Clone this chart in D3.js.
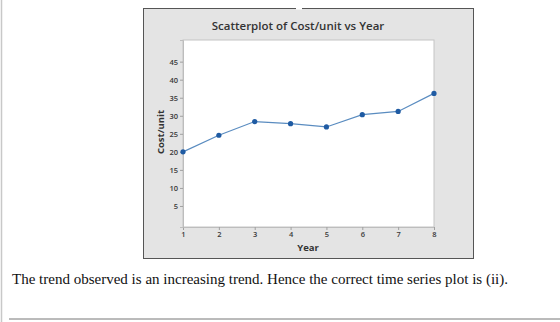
<!DOCTYPE html>
<html><head><meta charset="utf-8">
<script src="https://cdn.jsdelivr.net/npm/d3@7"></script>
<style>body{margin:0;background:#fff}svg{display:block}</style>
</head><body>
<svg id="c" width="560" height="322"></svg>
<script>
const years = [1, 2, 3, 4, 5, 6, 7, 8];
const costPerUnit = [20, 24.6, 28.4, 27.8, 26.9, 30.3, 31.2, 36.2];
const xTicks = [1, 2, 3, 4, 5, 6, 7, 8];
const yTicks = [5, 10, 15, 20, 25, 30, 35, 40, 45];
const titleText = "Scatterplot of Cost/unit vs Year";
const xLabel = "Year";
const yLabel = "Cost/unit";
const caption = "The trend observed is an increasing trend. Hence the correct time series plot is (ii).";

const svg = d3.select("#c");
svg.append("line").attr("x1",1.5).attr("x2",1.5).attr("y1",0).attr("y2",322).attr("stroke","#c8c8c8").attr("stroke-width",1.5);

svg.append("rect").attr("x",143.5).attr("y",8.5).attr("width",330).attr("height",250)
  .attr("fill","#e4e4e4").attr("stroke","#555").attr("stroke-width",1);
svg.append("rect").attr("x",296).attr("y",7).attr("width",6).attr("height",2.5).attr("fill","#fff");

const L=183, R=434, T=40, B=227;
svg.append("rect").attr("x",L).attr("y",T).attr("width",R-L).attr("height",B-T)
  .attr("fill","#fff").attr("stroke","#c4c4c4").attr("stroke-width",1);

const x = d3.scaleLinear().domain([1,8]).range([L,R]);
const y = d3.scaleLinear().domain([-0.83,51]).range([B,T]);

const gx = svg.append("g").attr("transform",`translate(0,${B})`)
  .call(d3.axisBottom(x).tickValues(xTicks).tickSize(3).tickPadding(2).tickFormat(d3.format("d")));
const gy = svg.append("g").attr("transform",`translate(${L},0)`)
  .call(d3.axisLeft(y).tickValues(yTicks).tickSize(3).tickPadding(2).tickFormat(d3.format("d")));
[gx,gy].forEach(g=>{
  g.select(".domain").attr("stroke","#bdbdbd");
  g.selectAll(".tick line").attr("stroke","#a0a0a0");
  g.selectAll(".tick text").attr("fill","#3a3a3a").attr("font-family","Open Sans, sans-serif").attr("font-weight",600).attr("font-size",7.5);
});

const line = d3.line().x((d,i)=>x(years[i])).y(d=>y(d));
svg.append("path").datum(costPerUnit).attr("d",line).attr("fill","none").attr("stroke","#5a8cc0").attr("stroke-width",1.2);
svg.selectAll("circle.p").data(costPerUnit).join("circle").attr("class","p")
  .attr("cx",(d,i)=>x(years[i])).attr("cy",d=>y(d)).attr("r",2.6).attr("fill","#1f5ba3");

svg.append("text").attr("x",298).attr("y",30).attr("text-anchor","middle")
  .attr("font-family","Open Sans, sans-serif").attr("font-weight",600).attr("font-size",11.5).attr("fill","#333").text(titleText);
svg.append("text").attr("x",308).attr("y",251).attr("text-anchor","middle")
  .attr("font-family","Open Sans, sans-serif").attr("font-weight",700).attr("font-size",9.5).attr("fill","#333").text(xLabel);
svg.append("text").attr("transform","translate(164,132) rotate(-90)").attr("text-anchor","middle")
  .attr("font-family","Open Sans, sans-serif").attr("font-weight",700).attr("font-size",9.5).attr("fill","#333").text(yLabel);

svg.append("text").attr("x",12).attr("y",283.5).attr("font-family","Liberation Serif, Times New Roman, serif")
  .attr("font-size",15.5).attr("fill","#111").attr("textLength",496).attr("lengthAdjust","spacingAndGlyphs").text(caption);
svg.append("line").attr("x1",9).attr("x2",560).attr("y1",319).attr("y2",319).attr("stroke","#777").attr("stroke-width",1);
</script>
</body></html>
